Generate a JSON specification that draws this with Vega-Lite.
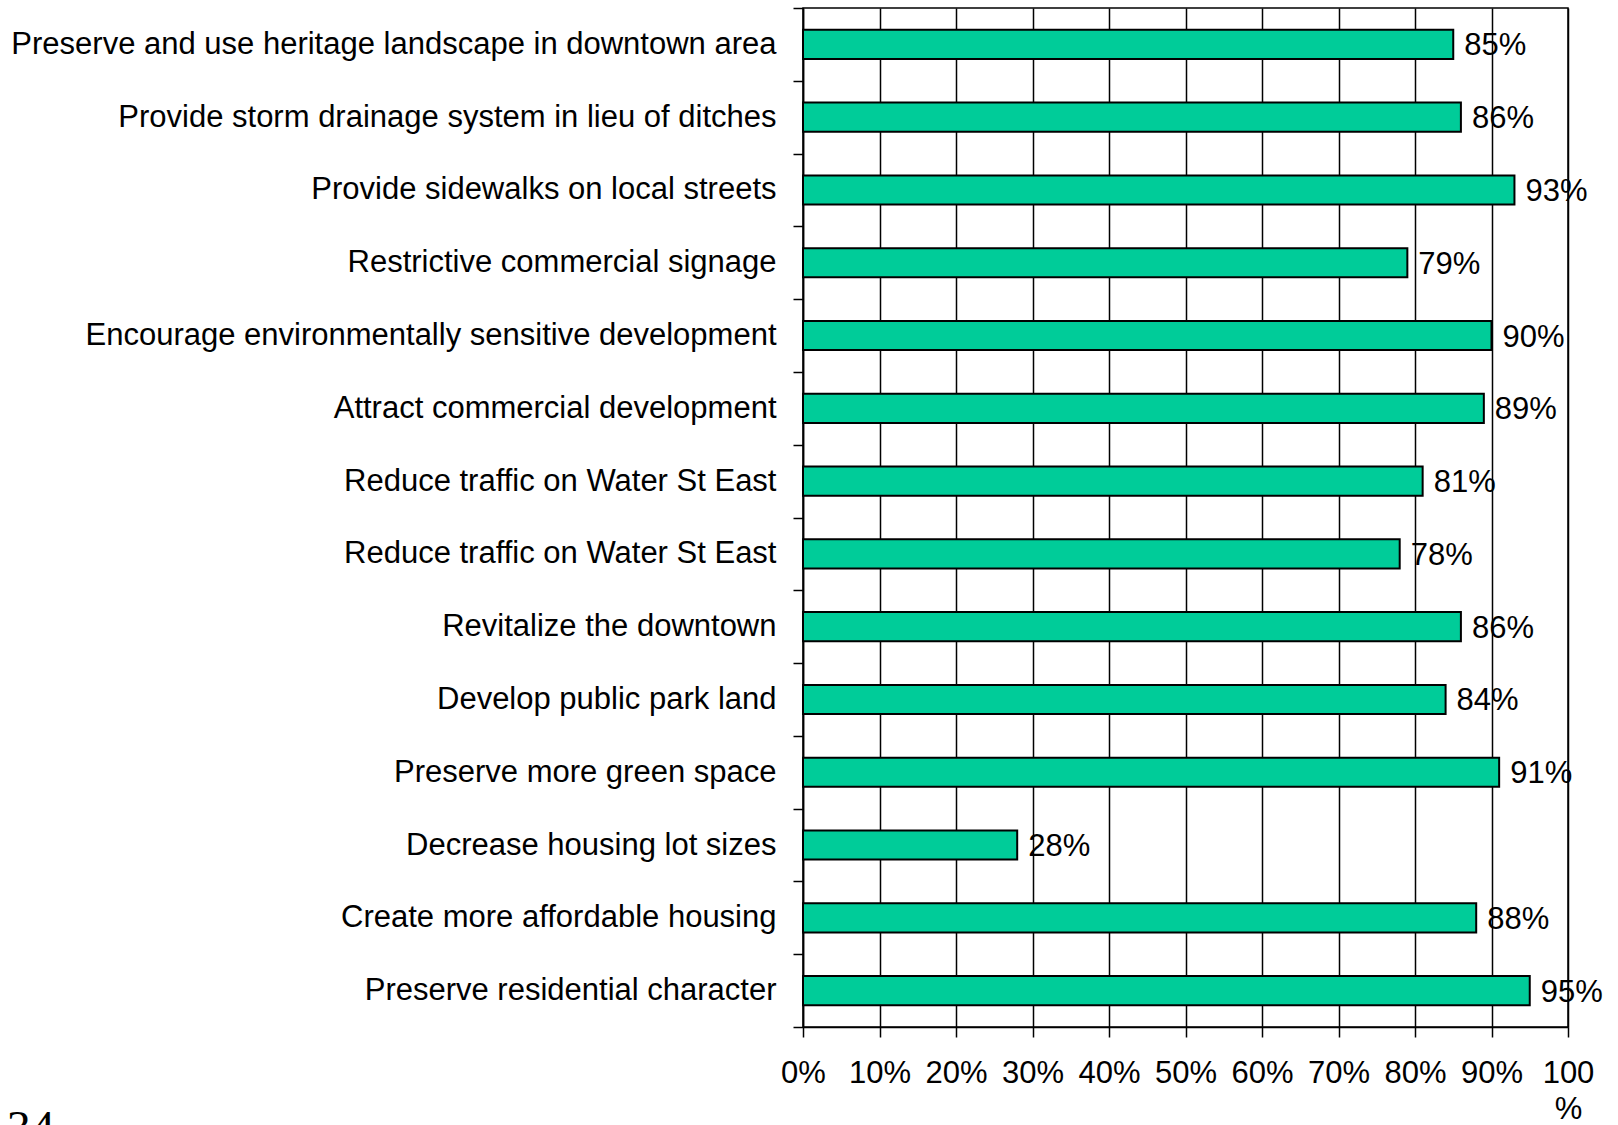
{
  "$schema": "https://vega.github.io/schema/vega-lite/v6.json",
  "width": 765,
  "height": 1019,
  "autosize": {"type": "none"},
  "padding": {"left": 803, "top": 8, "right": 50, "bottom": 98},
  "background": "white",
  "title": {
    "text": "34",
    "orient": "bottom",
    "anchor": "start",
    "frame": "bounds",
    "font": "Liberation Serif",
    "fontSize": 48,
    "fontWeight": "normal",
    "color": "black",
    "offset": -18,
    "dx": -4
  },
  "data": {
    "values": [
      {"item": "Preserve and use heritage landscape in downtown area", "pct": 0.85},
      {"item": "Provide storm drainage system in lieu of ditches", "pct": 0.86},
      {"item": "Provide sidewalks on local streets", "pct": 0.93},
      {"item": "Restrictive commercial signage", "pct": 0.79},
      {"item": "Encourage environmentally sensitive development", "pct": 0.90},
      {"item": "Attract commercial development", "pct": 0.89},
      {"item": "Reduce traffic on Water St East", "pct": 0.81},
      {"item": "Reduce traffic on Water St East ", "pct": 0.78},
      {"item": "Revitalize the downtown", "pct": 0.86},
      {"item": "Develop public park land", "pct": 0.84},
      {"item": "Preserve more green space", "pct": 0.91},
      {"item": "Decrease housing lot sizes", "pct": 0.28},
      {"item": "Create more affordable housing", "pct": 0.88},
      {"item": "Preserve residential character", "pct": 0.95}
    ]
  },
  "encoding": {
    "y": {
      "field": "item",
      "type": "nominal",
      "sort": null,
      "scale": {"paddingInner": 0, "paddingOuter": 0},
      "axis": {
        "title": null,
        "tickBand": "extent",
        "tickSize": 10,
        "tickColor": "black",
        "tickWidth": 1.5,
        "domainColor": "black",
        "domainWidth": 1.5,
        "grid": false,
        "labelFont": "Liberation Sans",
        "labelFontSize": 31,
        "labelColor": "black",
        "labelPadding": 17,
        "labelLimit": 900
      }
    },
    "x": {
      "field": "pct",
      "type": "quantitative",
      "scale": {"domain": [0, 1], "nice": false, "zero": true},
      "axis": {
        "title": null,
        "values": [0, 0.1, 0.2, 0.3, 0.4, 0.5, 0.6, 0.7, 0.8, 0.9, 1],
        "format": ".0%",
        "labelExpr": "datum.value >= 0.999 ? ['100', '%'] : datum.label",
        "labelLineHeight": 36,
        "tickSize": 10,
        "tickColor": "black",
        "tickWidth": 1.5,
        "domainColor": "black",
        "domainWidth": 1.5,
        "grid": true,
        "gridColor": "black",
        "gridWidth": 1.5,
        "gridOpacity": 1,
        "labelFont": "Liberation Sans",
        "labelFontSize": 31,
        "labelColor": "black",
        "labelPadding": 21,
        "labelFlush": false,
        "labelOverlap": false,
        "labelBaseline": "top"
      }
    }
  },
  "layer": [
    {
      "mark": {"type": "bar", "color": "#00CC99", "stroke": "black", "strokeWidth": 2, "height": {"band": 0.4}}
    },
    {
      "mark": {
        "type": "text",
        "align": "left",
        "baseline": "middle",
        "dx": 11,
        "dy": 2,
        "font": "Liberation Sans",
        "fontSize": 31,
        "color": "black"
      },
      "encoding": {
        "text": {"field": "pct", "type": "quantitative", "format": ".0%"}
      }
    }
  ],
  "config": {
    "view": {"stroke": "black", "strokeWidth": 1.5}
  }
}
